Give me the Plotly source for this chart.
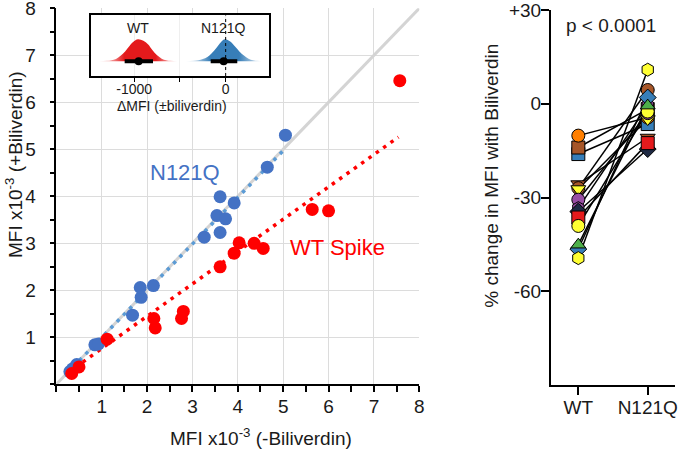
import plotly.graph_objects as go

W, H = 680, 449
def px(x): return x / W
def py(y): return 1 - y / H

FONT = "Liberation Sans, Arial, Helvetica, sans-serif"
INK = "#1a1a1a"

# ---------------- main scatter data (MFI x10^-3) ----------------
n121q_x = [0.30, 0.36, 0.45, 0.85, 0.93, 1.68, 1.87, 1.85, 2.14, 3.26, 3.54, 3.61, 3.73, 3.92, 3.61, 4.65, 5.05]
n121q_y = [0.27, 0.33, 0.42, 0.84, 0.86, 1.47, 1.85, 2.06, 2.10, 3.13, 3.59, 3.23, 3.52, 3.86, 3.99, 4.62, 5.30]
wt_x = [0.34, 0.50, 1.12, 2.15, 2.18, 2.76, 2.80, 3.61, 3.92, 4.03, 4.36, 4.56, 5.64, 6.00, 7.57]
wt_y = [0.23, 0.37, 0.96, 1.40, 1.20, 1.40, 1.55, 2.50, 2.79, 3.01, 3.00, 2.89, 3.72, 3.69, 6.46]

identity_x = [0, 8]
identity_y = [0, 8]
n121q_fit_x = [0.23, 5.03]
n121q_fit_y = [0.23, 5.00]
wt_fit_x = [0.26, 7.54]
wt_fit_y = [0.25, 5.26]

main_ticks = [1, 2, 3, 4, 5, 6, 7, 8]
main_ticktext = ["1", "2", "3", "4", "5", "6", "7", "8"]
main_minor = [0, 0.5, 1.5, 2.5, 3.5, 4.5, 5.5, 6.5, 7.5]

# ---------------- inset (delta MFI densities) ----------------
wt_dens_x = [-1400, -1300, -1250, -1200, -1150, -1100, -1050, -1000, -960, -900, -850, -800, -750, -700, -650, -600, -520]
wt_dens_h = [0.0, 0.02, 0.05, 0.11, 0.25, 0.45, 0.71, 0.92, 1.0, 0.93, 0.77, 0.50, 0.27, 0.12, 0.05, 0.02, 0.0]
n121q_dens_x = [-450, -350, -300, -250, -200, -150, -100, -50, -10, 50, 100, 150, 200, 250, 300, 350, 400]
n121q_dens_h = [0.0, 0.02, 0.05, 0.10, 0.20, 0.38, 0.62, 0.88, 1.0, 0.90, 0.68, 0.45, 0.26, 0.12, 0.05, 0.02, 0.0]
wt_mean, wt_lo, wt_hi = -952, -1105, -795
n121q_mean, n121q_lo, n121q_hi = -22, -164, 127
inset_ticks = [-1000, 0]
inset_ticktext = ["-1000", "0"]
inset_minor = [-500]

# ---------------- right panel (% change) ----------------
pct_wt = [-16.1, -14.0, -10.2, -25.7, -27.0, -27.3, -30.7, -33.4, -34.5, -36.4, -39.1, -46.5, -45.1, -49.4]
pct_n121q = [-6.5, -1.7, -4.4, -10.8, 4.4, -4.9, -3.0, -0.5, -14.5, -12.6, -2.5, 2.0, -0.6, 10.9]
pct_symbols = ["square", "square", "circle", "triangle-down", "circle", "triangle-down", "circle",
               "hexagon", "diamond", "square", "circle", "diamond", "triangle-up", "hexagon"]
pct_colors = ["#377EB8", "#A65628", "#FF7F00", "#A65628", "#A65628", "#FFFF33", "#984EA3",
              "#984EA3", "#1f2a44", "#E41A1C", "#FFFF33", "#377EB8", "#4DAF4A", "#FFFF33"]
cat_labels = ["WT", "N121Q"]
pct_ticks = [30, 0, -30, -60]
pct_ticktext = ["+30", "0", "-30", "-60"]

fig = go.Figure()

# main panel
fig.add_trace(go.Scatter(x=identity_x, y=identity_y, mode="lines",
                         line=dict(color="#d4d4d4", width=3), hoverinfo="skip"))
fig.add_trace(go.Scatter(x=n121q_fit_x, y=n121q_fit_y, mode="lines",
                         line=dict(color="#5B9BD5", width=3.5, dash="3.5px,5.5px")))
fig.add_trace(go.Scatter(x=wt_fit_x, y=wt_fit_y, mode="lines",
                         line=dict(color="#FF0000", width=3.5, dash="3.5px,5.5px")))
fig.add_trace(go.Scatter(x=n121q_x, y=n121q_y, mode="markers",
                         marker=dict(color="#4472C4", size=13, line=dict(width=0))))
fig.add_trace(go.Scatter(x=wt_x, y=wt_y, mode="markers",
                         marker=dict(color="#FF0000", size=13, line=dict(width=0))))

# inset
red_fill = dict(type="horizontal", colorscale=[
    [0, "rgba(228,26,28,0)"], [0.2, "rgba(228,26,28,0.55)"], [0.33, "rgba(228,26,28,1)"],
    [0.72, "rgba(228,26,28,1)"], [0.86, "rgba(228,26,28,0.55)"], [1, "rgba(228,26,28,0)"]])
blue_fill = dict(type="horizontal", colorscale=[
    [0, "rgba(55,126,184,0)"], [0.2, "rgba(55,126,184,0.55)"], [0.33, "rgba(55,126,184,1)"],
    [0.7, "rgba(55,126,184,1)"], [0.85, "rgba(55,126,184,0.55)"], [1, "rgba(55,126,184,0)"]])
fig.add_trace(go.Scatter(x=wt_dens_x, y=wt_dens_h, mode="lines", fill="tozeroy",
                         line=dict(width=0, shape="spline"), fillgradient=red_fill,
                         xaxis="x3", yaxis="y3"))
fig.add_trace(go.Scatter(x=n121q_dens_x, y=n121q_dens_h, mode="lines", fill="tozeroy",
                         line=dict(width=0, shape="spline"), fillgradient=blue_fill,
                         xaxis="x3", yaxis="y3"))
fig.add_trace(go.Scatter(x=[wt_lo, wt_hi, None, n121q_lo, n121q_hi], y=[0, 0, None, 0, 0],
                         mode="lines", line=dict(color="black", width=4),
                         xaxis="x3", yaxis="y3"))
fig.add_trace(go.Scatter(x=[wt_mean, n121q_mean], y=[0, 0], mode="markers",
                         marker=dict(color="black", size=8), xaxis="x3", yaxis="y3"))

# right panel
lx, ly = [], []
for a, b in zip(pct_wt, pct_n121q):
    lx += [0, 1, None]
    ly += [a, b, None]
fig.add_trace(go.Scatter(x=lx, y=ly, mode="lines", line=dict(color="black", width=1.5),
                         xaxis="x2", yaxis="y2"))
fig.add_trace(go.Scatter(x=[1] * len(pct_n121q), y=pct_n121q, mode="markers",
                         marker=dict(symbol=pct_symbols, color=pct_colors, size=13,
                                     line=dict(color="black", width=1)),
                         xaxis="x2", yaxis="y2"))
fig.add_trace(go.Scatter(x=[0] * len(pct_wt), y=pct_wt, mode="markers",
                         marker=dict(symbol=pct_symbols, color=pct_colors, size=13,
                                     line=dict(color="black", width=1)),
                         xaxis="x2", yaxis="y2"))

axis_common = dict(showline=True, linecolor="black", linewidth=1.5, zeroline=False,
                   ticks="outside", tickcolor="black", tickwidth=1.5,
                   ticklabeloverflow="allow", automargin=False,
                   tickfont=dict(size=19, color=INK, family=FONT))

inset_xr = [-1470, 474]
inset_yr = [-0.668, 2.09]

fig.update_layout(
    width=W, height=H, margin=dict(l=0, r=0, t=0, b=0, autoexpand=False),
    paper_bgcolor="white", plot_bgcolor="white", showlegend=False,
    font=dict(family=FONT, color=INK),
    xaxis=dict(domain=[px(56.3), px(419.3)], range=[0, 8], tickmode="array",
               tickvals=main_ticks, ticktext=main_ticktext, ticklen=6,
               showgrid=True, gridcolor="#dcdcdc", gridwidth=1, anchor="y",
               minor=dict(tickmode="array", tickvals=main_minor, ticks="outside", ticklen=6,
                          tickcolor="black", tickwidth=1.5, showgrid=False),
               ticklabelstandoff=-2, **axis_common),
    yaxis=dict(domain=[py(384.3), py(8.3)], range=[0, 8], tickmode="array",
               tickvals=main_ticks, ticktext=main_ticktext, ticklen=5,
               showgrid=True, gridcolor="#dcdcdc", gridwidth=1, anchor="x",
               minor=dict(tickmode="array", tickvals=main_minor, ticks="outside", ticklen=5,
                          tickcolor="black", tickwidth=1.5, showgrid=False),
               ticklabelstandoff=10, **axis_common),
    xaxis2=dict(domain=[px(550.7), px(675)], range=[-0.398, 1.393], tickmode="array",
                tickvals=[0, 1], ticktext=cat_labels, ticklen=8, showgrid=False,
                anchor="y2", ticklabelstandoff=-4, **axis_common),
    yaxis2=dict(domain=[py(385), py(10)], range=[-90, 30], tickmode="array",
                tickvals=pct_ticks, ticktext=pct_ticktext,
                ticklen=8, showgrid=False, anchor="x2", ticklabelstandoff=-4, **axis_common),
    xaxis3=dict(domain=[px(91.3), px(269)], range=inset_xr, anchor="y3", automargin=False,
                showline=True, mirror=True, linecolor="black", linewidth=1.5, zeroline=False,
                tickmode="array", tickvals=inset_ticks, ticktext=inset_ticktext,
                ticks="outside", ticklen=4, tickcolor="black", tickwidth=1.2,
                ticklabelstandoff=-5,
                tickfont=dict(size=14, color=INK, family=FONT),
                showgrid=True, gridcolor="#efefef", gridwidth=1,
                minor=dict(tickmode="array", tickvals=inset_minor, ticks="outside", ticklen=4,
                           tickcolor="black", tickwidth=1.2,
                           showgrid=True, gridcolor="#efefef")),
    yaxis3=dict(domain=[py(76), py(15.3)], range=inset_yr, anchor="x3", automargin=False,
                showline=True, mirror=True, linecolor="black", linewidth=1.5, zeroline=False,
                showticklabels=False, ticks="", showgrid=False),
)

# white background behind the inset (covers main grid)
fig.add_shape(type="rect", xref="x3", yref="y3", x0=inset_xr[0], x1=inset_xr[1],
              y0=inset_yr[0], y1=inset_yr[1], fillcolor="white", line=dict(width=0), layer="below")
# dashed zero line in inset
fig.add_shape(type="line", xref="x3", yref="y3", x0=0, x1=0, y0=inset_yr[0], y1=inset_yr[1],
              line=dict(color="black", width=1, dash="3px,3px"))

def ann(text, x, y, size, color=INK, angle=0):
    fig.add_annotation(text=text, x=px(x), y=py(y), xref="paper", yref="paper",
                       xanchor="center", yanchor="middle", showarrow=False, textangle=angle,
                       font=dict(size=size, color=color, family=FONT))

ann("N121Q", 185.3, 172.7, 22, "#4472C4")
ann("WT Spike", 337.2, 247.7, 22, "#FF0000")
ann("WT", 137.7, 28.3, 14)
ann("N121Q", 223, 28.3, 14)
ann("ΔMFI (±biliverdin)", 172, 106, 14)
ann("MFI x10<sup>-3</sup> (-Biliverdin)", 260.5, 437, 19)
ann("MFI x10<sup>-3</sup> (+Biliverdin)", 14, 165, 19, angle=-90)
ann("% change in MFI with Biliverdin", 491.7, 176, 19, angle=-90)
ann("p &lt; 0.0001", 610.8, 25, 19)

fig.write_html("out.html", config={"displayModeBar": False},
               post_script="document.body.style.margin='0';")
